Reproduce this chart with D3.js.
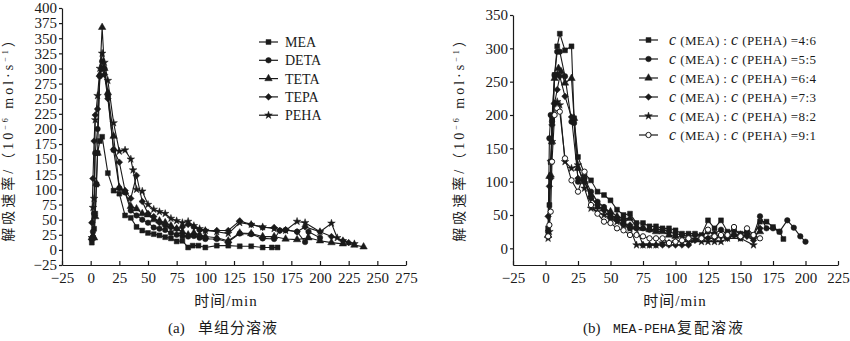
<!DOCTYPE html>
<html><head><meta charset="utf-8">
<script src="https://cdn.jsdelivr.net/npm/d3@7"></script>
<style>
html,body{margin:0;padding:0;background:#fff;}
svg{display:block;}
text{font-family:"Liberation Serif","Noto Sans CJK SC",serif;fill:#1a1a1a;}
</style></head><body>
<svg id="c" width="850" height="341"></svg>
<script>
// ---- data: panel (a) single component solutions ----
const seriesA = ["MEA","DETA","TETA","TEPA","PEHA"];
const symA = ["square","circle","triangle","diamond","star"];
const MEA = [[1,12],[2,20],[3,35],[4,60],[5,108],[6,160],[8,180],[10,187],[15,127],[20,98],[25,93],[30,57],[35,53],[40,38],[45,32],[50,28],[55,26],[60,24],[65,21],[70,19],[75,14],[80,15],[85,4],[89,7],[94,7],[100,4],[110,7],[120,7],[130,6],[140,6],[150,4],[158,4],[163,4]];
const DETA = [[1,18],[2,30],[3,60],[4,160],[6,200],[8,287],[10,312],[12,300],[15,255],[20,165],[25,102],[30,95],[35,65],[40,57],[45,50],[50,45],[55,37],[60,35],[65,33],[70,28],[75,25],[80,23],[85,22],[90,23],[95,20],[100,18],[110,18],[120,13],[130,27],[140,26],[150,19],[160,18],[165,32],[170,33],[180,30],[187,13],[190,30],[200,20]];
const TETA = [[1,20],[2,22],[3,20],[4,55],[5,110],[6,160],[8,290],[10,368],[12,300],[15,260],[20,188],[25,103],[30,96],[35,72],[40,68],[45,60],[50,58],[55,50],[60,48],[65,45],[70,40],[75,35],[80,30],[85,25],[90,28],[95,25],[100,22],[110,20],[120,15],[130,28],[140,27],[150,22],[160,22],[170,18],[180,17],[190,20],[200,15],[210,12],[220,10],[230,8],[238,5]];
const TEPA = [[1,45],[2,118],[3,180],[4,223],[6,233],[8,288],[10,300],[12,290],[15,250],[20,166],[25,145],[30,98],[35,85],[40,123],[45,80],[50,60],[55,55],[60,45],[65,40],[70,37],[75,35],[80,38],[85,42],[90,38],[95,33],[100,32],[110,32],[120,32],[130,48],[140,42],[150,37],[160,37],[165,32],[170,33],[180,30],[187,38],[200,30],[210,22],[220,15],[225,12]];
const PEHA = [[1,20],[2,70],[3,85],[4,215],[6,255],[8,300],[10,325],[12,310],[15,280],[20,210],[25,163],[30,165],[35,150],[37,132],[40,100],[45,97],[50,75],[55,67],[60,63],[65,60],[70,52],[75,48],[80,45],[85,47],[90,40],[95,35],[100,32],[110,30],[120,27],[130,45],[140,42],[150,38],[160,35],[170,32],[180,47],[187,45],[200,30],[210,44],[215,20],[220,15],[230,10]];
const dataA = [MEA,DETA,TETA,TEPA,PEHA];
const xTicksA = [-25,0,25,50,75,100,125,150,175,200,225,250,275];
const yTicksA = [-25,0,25,50,75,100,125,150,175,200,225,250,275,300,325,350,375,400];

// ---- data: panel (b) MEA-PEHA blends ----
const ratiosB = ["4:6","5:5","6:4","7:3","8:2","9:1"];
const symB = ["square","circle","triangle","diamond","star","opencircle"];
const R46 = [[2,30],[3,65],[4,130],[5,195],[7,260],[9,303],[11,322],[15,297],[20,303],[22,195],[25,137],[30,112],[35,102],[40,85],[45,80],[50,72],[55,58],[60,50],[65,52],[70,38],[75,38],[80,33],[85,33],[90,30],[95,30],[100,27],[105,22],[110,22],[115,22],[120,20],[125,42],[130,30],[135,42],[140,25],[145,27],[150,22],[155,25],[160,18],[165,40],[170,40],[175,32],[180,25],[183,14]];
const R55 = [[2,25],[3,165],[4,200],[5,190],[7,260],[9,295],[11,295],[15,258],[20,190],[22,188],[25,100],[30,105],[35,85],[40,70],[45,62],[50,50],[55,45],[60,40],[65,30],[70,30],[75,30],[80,28],[85,28],[90,28],[95,25],[100,22],[105,20],[110,18],[115,20],[120,18],[125,25],[130,22],[135,28],[140,20],[145,20],[150,15],[155,22],[160,20],[165,48],[170,30],[175,30],[180,25],[186,42],[191,31],[196,18],[200,10]];
const R64 = [[2,20],[3,108],[4,110],[5,160],[7,255],[9,260],[10,270],[12,265],[15,248],[20,255],[22,195],[25,120],[30,100],[35,80],[40,62],[45,60],[50,55],[55,48],[60,45],[65,45],[70,32],[75,30],[80,28],[85,25],[90,25],[95,20],[100,18],[110,15],[120,15],[130,20],[140,18],[150,20],[160,18],[165,25]];
const R73 = [[2,48],[3,93],[4,105],[5,185],[7,218],[9,238],[11,258],[15,228],[20,197],[25,105],[30,100],[35,75],[40,65],[45,57],[50,45],[55,42],[60,35],[65,35],[70,30],[75,5],[80,5],[85,5],[90,5],[95,5],[100,5],[105,5],[110,5],[115,12],[120,15],[125,15],[130,15],[135,18],[140,15],[145,20],[150,20],[155,18],[160,12],[165,30]];
const R82 = [[2,15],[3,25],[4,130],[5,160],[7,215],[9,220],[11,215],[15,130],[20,120],[25,125],[30,90],[35,60],[40,55],[45,50],[50,45],[55,40],[60,35],[65,30],[70,5],[75,5],[80,5],[85,5],[90,8],[95,8],[100,10],[110,10],[120,10],[125,10],[130,10],[135,10],[140,15],[150,15],[160,5]];
const R91 = [[2,18],[3,35],[4,55],[5,130],[7,200],[9,210],[11,205],[15,135],[20,102],[25,85],[30,115],[35,65],[40,52],[45,40],[50,38],[55,30],[60,27],[65,20],[70,20],[75,18],[80,15],[85,15],[90,15],[95,8],[100,10],[105,12],[110,15],[120,15],[125,28],[130,18],[135,20],[140,20],[145,32],[150,18],[155,30],[160,20],[165,15]];
const dataB = [R46,R55,R64,R73,R82,R91];
const xTicksB = [-25,0,25,50,75,100,125,150,175,200,225];
const yTicksB = [0,50,100,150,200,250,300,350];

const INK = "#1a1a1a";
const svg = d3.select("#c");

function symbolPath(name){
  const map = {square:[d3.symbolSquare,24], circle:[d3.symbolCircle,24], triangle:[d3.symbolTriangle,24],
    diamond:[d3.symbolDiamond2,28], star:[d3.symbolStar,18], opencircle:[d3.symbolCircle,22]};
  const m = map[name];
  return d3.symbol().type(m[0]).size(m[1])();
}

function panel(cfg){
  const g = svg.append("g");
  const x = d3.scaleLinear().domain(cfg.xDom).range(cfg.xRange);
  const y = d3.scaleLinear().domain(cfg.yDom).range(cfg.yRange);
  const xa = g.append("g").attr("transform",`translate(0,${cfg.yRange[0]})`)
    .call(d3.axisBottom(x).tickValues(cfg.xTicks).tickSizeInner(-4).tickSizeOuter(0).tickPadding(7).tickFormat(d3.format("d")));
  const ya = g.append("g").attr("transform",`translate(${cfg.xRange[0]},0)`)
    .call(d3.axisLeft(y).tickValues(cfg.yTicks).tickSizeInner(3).tickSizeOuter(0).tickPadding(2).tickFormat(d3.format("d")));
  [xa,ya].forEach(a=>{
    a.selectAll("path,line").attr("stroke",INK).attr("stroke-width",1.2);
    a.selectAll("text").attr("font-size",15).attr("fill",INK).attr("font-family","Liberation Serif");
  });
  const line = d3.line().x(d=>x(d[0])).y(d=>y(d[1]));
  cfg.data.forEach((s,i)=>{
    g.append("path").datum(s).attr("d",line).attr("fill","none").attr("stroke",INK).attr("stroke-width",1.1);
  });
  cfg.data.forEach((s,i)=>{
    const open = cfg.syms[i]==="opencircle";
    g.selectAll(null).data(s).enter().append("path")
      .attr("d",symbolPath(cfg.syms[i]))
      .attr("transform",d=>`translate(${x(d[0])},${y(d[1])})`)
      .attr("fill",open?"#fff":INK).attr("stroke",INK).attr("stroke-width",open?1:0.5);
  });
  // axis titles
  g.append("text").attr("x",cfg.xTitle[0]).attr("y",cfg.xTitle[1]).attr("text-anchor","middle")
    .attr("font-size",15).attr("letter-spacing",1).text("时间/min");
  const yt = g.append("text").attr("transform",`translate(${cfg.yTitle[0]},${cfg.yTitle[1]}) rotate(-90)`)
    .attr("text-anchor","middle").attr("font-size",14).attr("letter-spacing",3);
  yt.append("tspan").text("解吸速率/（10");
  yt.append("tspan").attr("dy",-5).attr("font-size",8).text("−6");
  yt.append("tspan").attr("dy",5).text(" mol·s");
  yt.append("tspan").attr("dy",-5).attr("font-size",8).text("−1");
  yt.append("tspan").attr("dy",5).text("）");
  cfg.caption(g);
  // legend
  cfg.labels.forEach((lab,i)=>{
    const ly = cfg.leg[1] + i*cfg.leg[2];
    const lx = cfg.leg[0];
    g.append("line").attr("x1",lx).attr("x2",lx+19).attr("y1",ly).attr("y2",ly).attr("stroke",INK).attr("stroke-width",1.2);
    const open = cfg.syms[i]==="opencircle";
    g.append("path").attr("d",symbolPath(cfg.syms[i])).attr("transform",`translate(${lx+9.5},${ly})`)
      .attr("fill",open?"#fff":INK).attr("stroke",INK).attr("stroke-width",open?1:0.5);
    cfg.legendText(g.append("text").attr("x",lx+cfg.leg[3]).attr("y",ly+5).attr("font-size",14), lab);
  });
}

panel({
  xDom:[-25,275], xRange:[62,406], yDom:[-25,400], yRange:[265,8],
  xTicks:xTicksA, yTicks:yTicksA, data:dataA, syms:symA, labels:seriesA,
  xTitle:[226,306], yTitle:[13,136],
  caption:g=>{
    const t = g.append("text").attr("y",333).attr("font-size",15);
    t.append("tspan").attr("x",168).text("(a)");
    t.append("tspan").attr("x",198).attr("letter-spacing",1).text("单组分溶液");
  },
  leg:[259,42,18.3,26], legendText:(t,lab)=>t.text(lab)
});
panel({
  xDom:[-25,225], xRange:[513,838], yDom:[-25,350], yRange:[265,15],
  xTicks:xTicksB, yTicks:yTicksB, data:dataB, syms:symB, labels:ratiosB,
  xTitle:[675,306], yTitle:[464,136],
  caption:g=>{
    const t = g.append("text").attr("y",333).attr("font-size",15);
    t.append("tspan").attr("x",583).text("(b)");
    t.append("tspan").attr("x",613).attr("font-family","Liberation Mono").attr("font-size",13).text("MEA-PEHA");
    t.append("tspan").attr("x",677).attr("letter-spacing",2).text("复配溶液");
  },
  leg:[639,40,19,30], legendText:(t,lab)=>{
    t.attr("font-size",13).attr("letter-spacing",0.4);
    t.append("tspan").attr("font-style","italic").attr("font-size",16).text("c");
    t.append("tspan").text(" (MEA) : ");
    t.append("tspan").attr("font-style","italic").attr("font-size",16).text("c");
    t.append("tspan").text(" (PEHA) =" + lab);
  }
});
</script>
</body></html>
